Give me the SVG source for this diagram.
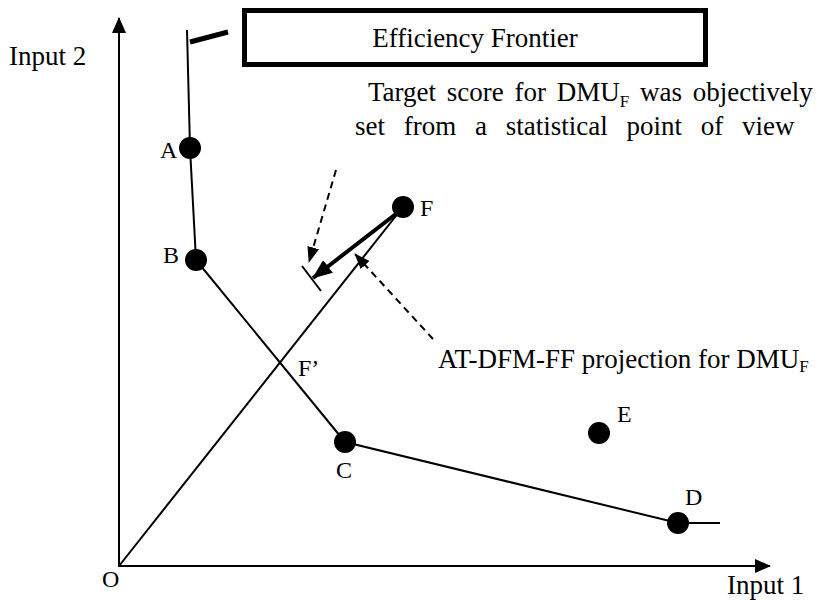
<svg xmlns="http://www.w3.org/2000/svg" width="824" height="602" viewBox="0 0 824 602">
<style>
text{font-family:"Liberation Serif","Times New Roman",serif;font-size:27px;fill:#000}
.lbl{font-size:24px}
.ln{stroke:#000;stroke-width:2;fill:none}
.dash{stroke:#000;stroke-width:2;fill:none;stroke-dasharray:7,5}
.pt{fill:#000}
</style>
<defs>
<marker id="ahBig" markerWidth="16" markerHeight="14" refX="15" refY="7" orient="auto" markerUnits="userSpaceOnUse" viewBox="0 0 16 14"><path d="M0,0L16,7L0,14z" fill="#000"/></marker>
<marker id="ahThick" markerWidth="20" markerHeight="16" refX="19" refY="8" orient="auto" markerUnits="userSpaceOnUse" viewBox="0 0 20 16"><path d="M0,0L20,8L0,16z" fill="#000"/></marker>
<marker id="ahSm" markerWidth="16" markerHeight="12" refX="15" refY="6" orient="auto" markerUnits="userSpaceOnUse" viewBox="0 0 16 12"><path d="M0,0L16,6L0,12z" fill="#000"/></marker>
</defs>
<g id="axes">
<line class="ln" x1="119" y1="567" x2="119" y2="18" marker-end="url(#ahBig)"/>
<line class="ln" x1="119" y1="566" x2="770" y2="566" marker-end="url(#ahBig)"/>
<text x="9" y="65">Input 2</text>
<text x="727" y="594">Input 1</text>
<text class="lbl" x="102" y="587">O</text>
</g>
<g id="connectors">
<polyline class="ln" points="187,30 190,148 196,260 345,442 678,523 720,523"/>
<line x1="190" y1="42" x2="228" y2="32" stroke="#000" stroke-width="5"/>
<line class="ln" x1="119" y1="566" x2="403" y2="207"/>
<line x1="401" y1="210" x2="313" y2="278" stroke="#000" stroke-width="4" marker-end="url(#ahThick)"/>
<line class="ln" x1="302" y1="266" x2="321" y2="291"/>
<path class="dash" d="M336,170 L309,262" marker-end="url(#ahSm)"/>
<path class="dash" d="M433,339 L355,254" marker-end="url(#ahSm)"/>
</g>
<g id="frontier-box">
<rect x="244.5" y="10.5" width="461" height="54" fill="#fff" stroke="#000" stroke-width="5"/>
<text x="475" y="47" text-anchor="middle">Efficiency Frontier</text>
</g>
<g id="A"><circle class="pt" cx="190" cy="148" r="11"/><text class="lbl" x="160" y="158">A</text></g>
<g id="B"><circle class="pt" cx="196" cy="260" r="11"/><text class="lbl" x="163" y="263">B</text></g>
<g id="C"><circle class="pt" cx="345" cy="442" r="11"/><text class="lbl" x="336" y="478">C</text></g>
<g id="D"><circle class="pt" cx="678" cy="523" r="11"/><text class="lbl" x="685" y="505">D</text></g>
<g id="E"><circle class="pt" cx="599" cy="433" r="11"/><text class="lbl" x="617" y="422">E</text></g>
<g id="F"><circle class="pt" cx="403" cy="207" r="11"/><text class="lbl" x="420" y="216">F</text></g>
<g id="Fprime"><text class="lbl" x="298" y="376">F’</text></g>
<g id="notes">
<text x="368" y="101" word-spacing="4">Target score for DMU<tspan font-size="17" dy="6">F</tspan><tspan dy="-6"> was objectively</tspan></text>
<text x="355" y="135" font-size="28" word-spacing="12">set from a statistical point of view</text>
<text x="438" y="368">AT-DFM-FF projection for DMU<tspan font-size="17" dy="4">F</tspan></text>
</g>
</svg>
